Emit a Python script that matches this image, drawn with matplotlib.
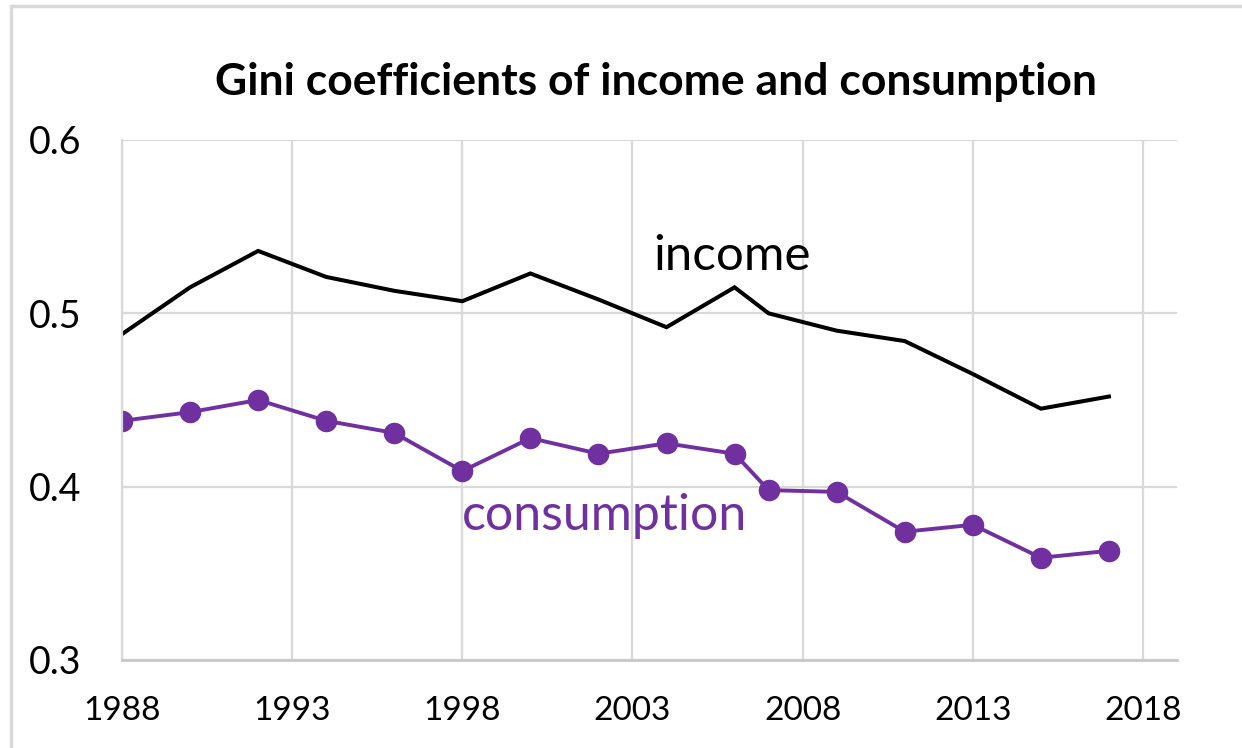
import matplotlib
matplotlib.use("Agg")
import matplotlib.pyplot as plt
from matplotlib.patches import Rectangle

plt.rcParams['font.family'] = ['Lato', 'DejaVu Sans']

years = [1988, 1990, 1992, 1994, 1996, 1998, 2000, 2002, 2004, 2006, 2007,
         2009, 2011, 2013, 2015, 2017]
income = [0.488, 0.515, 0.536, 0.521, 0.513, 0.507, 0.523, 0.508, 0.492,
          0.515, 0.500, 0.490, 0.484, 0.465, 0.445, 0.452]
consumption = [0.438, 0.443, 0.450, 0.438, 0.431, 0.409, 0.428, 0.419, 0.425,
               0.419, 0.398, 0.397, 0.374, 0.378, 0.359, 0.363]

xticks = [1988, 1993, 1998, 2003, 2008, 2013, 2018]
yticks = [0.3, 0.4, 0.5, 0.6]

purple = '#7030A0'
grid_c = '#d9d9d9'

fig = plt.figure(figsize=(12.42, 7.48), dpi=100)
ax = fig.add_axes([122 / 1242, 1 - 660 / 748, 1055 / 1242, 520 / 748])

# thin chart border (top and left only show)
fig.patches.append(Rectangle((11 / 1242, -0.1), 1.2, 1 - 6 / 748 + 0.1,
                             transform=fig.transFigure, fill=False,
                             edgecolor='#d9d9d9', linewidth=2.5))

ax.plot(years, income, color='black', linewidth=2.9, solid_joinstyle='miter')
ax.plot(years, consumption, color=purple, linewidth=2.8, marker='o',
        markersize=14.5)

ax.set_xlim(1988, 2019)
ax.set_ylim(0.3, 0.6)
ax.set_xticks(xticks)
ax.set_yticks(yticks)
ax.set_yticklabels([f"{v:.1f}" for v in yticks])
ax.tick_params(length=0)
ax.tick_params(axis='y', pad=29, labelsize=27)
ax.tick_params(axis='x', pad=26, labelsize=24)

ax.grid(True, color=grid_c, linewidth=1.6)
ax.set_axisbelow(True)
for s in ['top', 'right']:
    ax.spines[s].set_visible(False)
ax.spines['left'].set_color(grid_c)
ax.spines['left'].set_linewidth(1.6)
ax.spines['bottom'].set_color('#c8c8c8')
ax.spines['bottom'].set_linewidth(2)

ax.text(2003.6, 0.525, 'income', fontsize=35.5, color='black',
        ha='left', va='baseline')
ax.text(1998.0, 0.375, 'consumption', fontsize=36, color=purple,
        ha='left', va='baseline')

fig.text(656 / 1242, 1 - 95 / 748, 'Gini coefficients of income and consumption',
         fontsize=32, fontweight='bold', ha='center', va='baseline')

fig.savefig('out.png', dpi=100)
